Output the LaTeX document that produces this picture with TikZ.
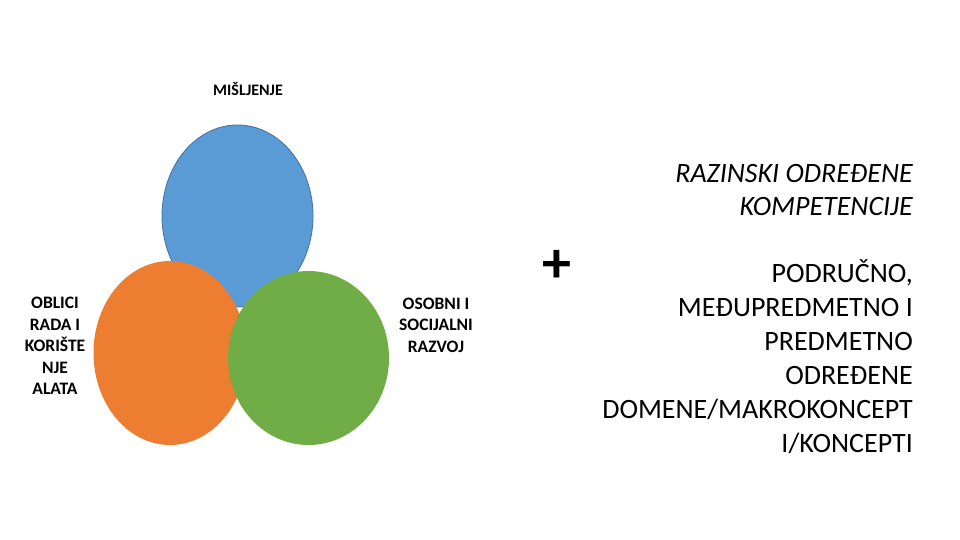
\documentclass[tikz,border=0pt]{standalone}
\usepackage{fontspec}
\setmainfont{Carlito}
\definecolor{cblue}{HTML}{5B9BD5}
\definecolor{cblueline}{HTML}{41719C}
\definecolor{corange}{HTML}{ED7D31}
\definecolor{cgreen}{HTML}{70AD47}
\tikzset{
  lbl/.style={inner sep=0pt, align=center, font=\bfseries\fontsize{17.5}{21.5}\selectfont},
  rtxt/.style={inner sep=0pt, align=right, anchor=east, font=\fontsize{28}{34}\selectfont},
}
\begin{document}
\begin{tikzpicture}[x=1pt,y=-1pt]
\useasboundingbox (0,0) rectangle (960,540);
\fill[white] (0,0) rectangle (960,540);
\draw[fill=cblue, draw=cblueline, line width=0.8pt] (237.5,216) ellipse [x radius=75.5, y radius=91];
\fill[corange] (170,353) ellipse [x radius=76.5, y radius=92];
\fill[cgreen] (308.5,358) ellipse [x radius=80.5, y radius=87];
\node[lbl, font=\bfseries\fontsize{16}{18}\selectfont] (mis) at (248,89) {MIŠLJENJE};
\node[lbl] (obl) at (55,346) {OBLICI\\RADA I\\KORIŠTE\\NJE\\ALATA};
\node[lbl] (oso) at (436,325) {OSOBNI I\\SOCIJALNI\\RAZVOJ};
\node[inner sep=0pt, font=\bfseries\fontsize{58}{58}\selectfont] (plus) at (557,266) {+};
\node[rtxt, font=\itshape\fontsize{28}{33}\selectfont] (raz) at (913,190) {RAZINSKI ODREĐENE\\KOMPETENCIJE};
\node[rtxt] (pod) at (913,357) {PODRUČNO,\\MEĐUPREDMETNO I\\PREDMETNO\\ODREĐENE\\DOMENE/MAKROKONCEPT\\I/KONCEPTI};
\end{tikzpicture}
\end{document}
